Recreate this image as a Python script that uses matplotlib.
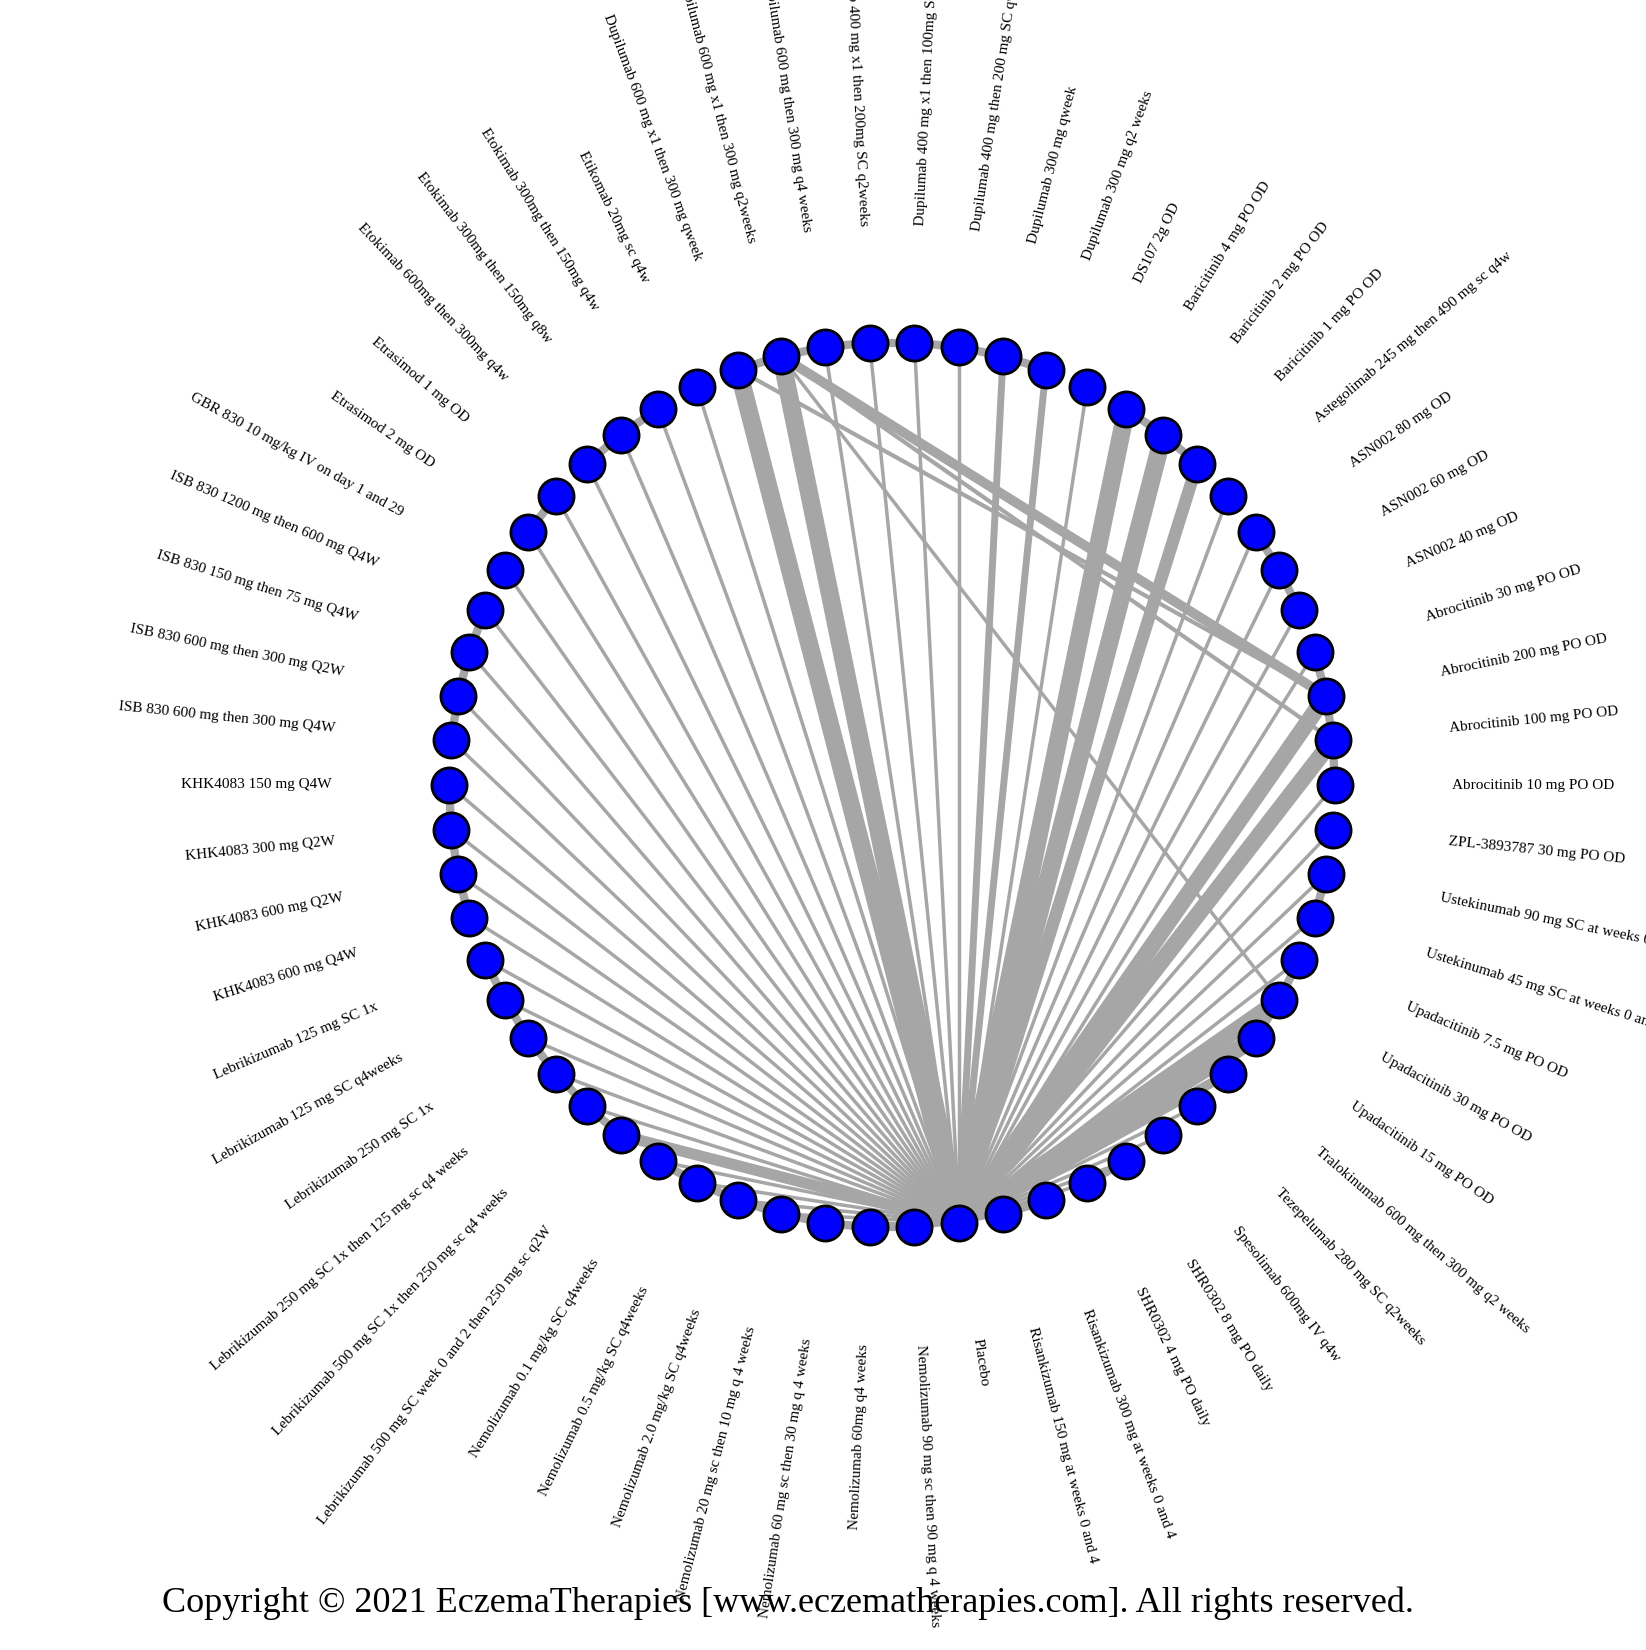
import numpy as np
import matplotlib
matplotlib.use("Agg")
import matplotlib.pyplot as plt

names = ["Abrocitinib 10 mg PO OD","Abrocitinib 100 mg PO OD","Abrocitinib 200 mg PO OD","Abrocitinib 30 mg PO OD",
"ASN002 40 mg OD","ASN002 60 mg OD","ASN002 80 mg OD","Astegolimab 245 mg then 490 mg sc q4w",
"Baricitinib 1 mg PO OD","Baricitinib 2 mg PO OD","Baricitinib 4 mg PO OD","DS107 2g OD",
"Dupilumab 300 mg q2 weeks","Dupilumab 300 mg qweek","Dupilumab 400 mg then 200 mg SC qweek",
"Dupilumab 400 mg x1 then 100mg SC q4weeks","Dupilumab 400 mg x1 then 200mg SC q2weeks",
"Dupilumab 600 mg then 300 mg q4 weeks","Dupilumab 600 mg x1 then 300 mg q2weeks","Dupilumab 600 mg x1 then 300 mg qweek",
"Etikomab 20mg sc q4w","Etokimab 300mg then 150mg q4w","Etokimab 300mg then 150mg q8w","Etokimab 600mg then 300mg q4w",
"Etrasimod 1 mg OD","Etrasimod 2 mg OD","GBR 830 10 mg/kg IV on day 1 and 29",
"ISB 830 1200 mg then 600 mg Q4W","ISB 830 150 mg then 75 mg Q4W","ISB 830 600 mg then 300 mg Q2W","ISB 830 600 mg then 300 mg Q4W",
"KHK4083 150 mg Q4W","KHK4083 300 mg Q2W","KHK4083 600 mg Q2W","KHK4083 600 mg Q4W",
"Lebrikizumab 125 mg SC 1x","Lebrikizumab 125 mg SC q4weeks","Lebrikizumab 250 mg SC 1x",
"Lebrikizumab 250 mg SC 1x then 125 mg sc q4 weeks","Lebrikizumab 500 mg SC 1x then 250 mg sc q4 weeks",
"Lebrikizumab 500 mg SC week 0 and 2 then 250 mg sc q2W",
"Nemolizumab 0.1 mg/kg SC q4weeks","Nemolizumab 0.5 mg/kg SC q4weeks","Nemolizumab 2.0 mg/kg SC q4weeks",
"Nemolizumab 20 mg sc then 10 mg q 4 weeks","Nemolizumab 60 mg sc then 30 mg q 4 weeks","Nemolizumab 60mg q4 weeks",
"Nemolizumab 90 mg sc then 90 mg q 4 weeks","Placebo","Risankizumab 150 mg at weeks 0 and 4","Risankizumab 300 mg at weeks 0 and 4",
"SHR0302 4 mg PO daily","SHR0302 8 mg PO daily","Spesolimab 600mg IV q4w","Tezepelumab 280 mg SC q2weeks",
"Tralokinumab 600 mg then 300 mg q2 weeks","Upadacitinib 15 mg PO OD","Upadacitinib 30 mg PO OD","Upadacitinib 7.5 mg PO OD",
"Ustekinumab 45 mg SC at weeks 0 and 4","Ustekinumab 90 mg SC at weeks 0 and 4","ZPL-3893787 30 mg PO OD"]

# placebo comparison weights (edge widths)
placebo_w = {1: 12, 2: 12, 8: 9, 9: 13, 10: 13, 12: 5, 13: 5, 18: 13, 19: 13,
             40: 8, 55: 7, 56: 12, 57: 12}
# head-to-head edges
h2h_src = ["Dupilumab 600 mg x1 then 300 mg q2weeks", "Dupilumab 600 mg x1 then 300 mg qweek",
           "Dupilumab 600 mg x1 then 300 mg q2weeks", "Dupilumab 600 mg x1 then 300 mg q2weeks"]
h2h_dst = ["Abrocitinib 200 mg PO OD", "Abrocitinib 200 mg PO OD",
           "Abrocitinib 100 mg PO OD", "Upadacitinib 30 mg PO OD"]
h2h_w = [7, 3, 3, 2.5]

N = len(names)
cx, cy, R, RL = 892, 785, 443, 560
fig = plt.figure(figsize=(16.46, 16.5), dpi=100)
ax = fig.add_axes([0, 0, 1, 1])
ax.set_xlim(0, 1646); ax.set_ylim(1650, 0); ax.axis("off")

ang = np.deg2rad(np.arange(N) * 360.0 / N)
xs = cx + R * np.cos(ang); ys = cy - R * np.sin(ang)
gray = "#a6a6a6"
pl = names.index("Placebo")

drug = [n.split()[0].split("-")[0] for n in names]
for i in range(N):
    j = (i + 1) % N
    if drug[i] == drug[j]:
        ax.plot([xs[i], xs[j]], [ys[i], ys[j]], color=gray, lw=6, zorder=1, solid_capstyle="round")
for i in range(N):
    if i == pl:
        continue
    ax.plot([xs[i], xs[pl]], [ys[i], ys[pl]], color=gray, lw=placebo_w.get(i, 2.5), zorder=1)
for s, d, w in zip(h2h_src, h2h_dst, h2h_w):
    a, b = names.index(s), names.index(d)
    ax.plot([xs[a], xs[b]], [ys[a], ys[b]], color=gray, lw=w, zorder=1)

ax.scatter(xs, ys, s=640, c="#0000ff", edgecolors="black", linewidths=2, zorder=3)

for i, n in enumerate(names):
    th = np.degrees(ang[i])
    x = cx + RL * np.cos(ang[i]); y = cy - RL * np.sin(ang[i])
    if 90 < th < 270:
        rot, ha = th - 180, "right"
    else:
        rot, ha = th, "left"
    ax.text(x, y, n, rotation=rot, ha=ha, va="center", rotation_mode="anchor",
            fontsize=11, family="Liberation Serif")

ax.text(788, 1603, "Copyright © 2021 EczemaTherapies [www.eczematherapies.com]. All rights reserved.",
        ha="center", va="center", fontsize=26, family="Liberation Serif")
fig.savefig("out.png", dpi=100)
